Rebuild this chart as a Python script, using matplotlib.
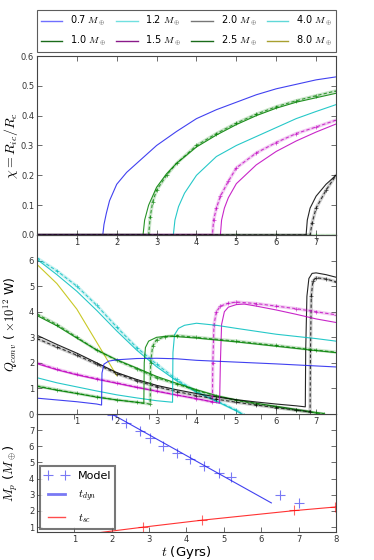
import matplotlib
matplotlib.use('Agg')
import matplotlib.pyplot as plt
from matplotlib.lines import Line2D

plt.rcParams['mathtext.fontset'] = 'cm'
plt.rcParams['font.family'] = ['DejaVu Sans']

# ---- panel 1 : inner core size chi vs time (solid = fit, "m" = model with + markers)
chi_07_t = [0, 1.65, 1.68, 1.74, 1.82, 2.0, 2.25, 2.5, 3.0, 3.5, 4.0, 4.5, 5.0, 5.5, 6.0, 6.5, 7.0, 7.5]
chi_07 = [0, 0, 0.035, 0.073, 0.115, 0.17, 0.21, 0.24, 0.30, 0.347, 0.39, 0.42, 0.445, 0.47, 0.49, 0.505, 0.52, 0.53]
chi_10_t = [0, 2.66, 2.7, 2.8, 3.0, 3.25, 3.5, 4.0, 4.5, 5.0, 5.5, 6.0, 6.5, 7.0, 7.5]
chi_10 = [0, 0, 0.05, 0.10, 0.16, 0.205, 0.24, 0.295, 0.335, 0.37, 0.40, 0.425, 0.445, 0.46, 0.475]
chi_10m_t = [0, 2.8, 2.84, 2.9, 3.0, 3.25, 3.5, 4.0, 4.5, 5.0, 5.5, 6.0, 6.5, 7.0, 7.5]
chi_10m = [0, 0, 0.06, 0.11, 0.15, 0.20, 0.24, 0.30, 0.34, 0.375, 0.405, 0.43, 0.45, 0.467, 0.483]
chi_12_t = [0, 3.42, 3.46, 3.55, 3.7, 4.0, 4.5, 5.0, 5.5, 6.0, 6.5, 7.0, 7.5]
chi_12 = [0, 0, 0.05, 0.095, 0.14, 0.20, 0.263, 0.30, 0.33, 0.36, 0.39, 0.414, 0.437]
chi_15_t = [0, 4.6, 4.63, 4.7, 4.8, 5.0, 5.5, 6.0, 6.5, 7.0, 7.5]
chi_15 = [0, 0, 0.05, 0.09, 0.125, 0.172, 0.235, 0.28, 0.315, 0.345, 0.372]
chi_15m_t = [0, 4.4, 4.43, 4.5, 4.6, 4.8, 5.0, 5.5, 6.0, 6.5, 7.0, 7.5]
chi_15m = [0, 0, 0.05, 0.09, 0.13, 0.18, 0.225, 0.275, 0.31, 0.34, 0.362, 0.385]
chi_20_t = [0, 6.75, 6.78, 6.85, 7.0, 7.25, 7.5]
chi_20 = [0, 0, 0.05, 0.09, 0.13, 0.17, 0.2]
chi_20m_t = [0, 6.85, 6.9, 7.0, 7.25, 7.5]
chi_20m = [0, 0, 0.04, 0.09, 0.15, 0.2]
chi_flat_t = [0, 1, 2, 3, 4, 5, 6, 7, 7.5]       # 2.5, 4.0 and 8.0 never nucleate
chi_flat = [0, 0, 0, 0, 0, 0, 0, 0, 0]

# ---- panel 2 : convective heat flow (x 1e12 W)
q_07_t = [0, 0.5, 1.0, 1.5, 1.62, 1.63, 1.68, 1.8, 2.0, 2.5, 3.0, 3.5, 4.0, 5.0, 6.0, 7.0, 7.5]
q_07 = [0.62, 0.55, 0.48, 0.39, 0.35, 1.6, 1.95, 2.07, 2.12, 2.17, 2.18, 2.16, 2.1, 2.03, 1.96, 1.88, 1.84]
q_10_t = [0, 0.5, 1.0, 1.5, 2.0, 2.5, 2.68, 2.69, 2.72, 2.8, 3.0, 3.3, 4.0, 5.0, 6.0, 7.0, 7.5]
q_10 = [1.08, 0.93, 0.8, 0.66, 0.55, 0.46, 0.42, 2.0, 2.6, 2.85, 3.0, 3.05, 2.97, 2.82, 2.65, 2.48, 2.4]
q_10m_t = [0, 0.5, 1.0, 1.5, 2.0, 2.5, 2.84, 2.85, 2.9, 3.0, 3.2, 3.5, 4.0, 5.0, 6.0, 7.0, 7.5]
q_10m = [1.1, 0.95, 0.81, 0.67, 0.55, 0.46, 0.39, 2.0, 2.65, 2.9, 3.02, 3.07, 3.0, 2.85, 2.68, 2.5, 2.42]
q_12_t = [0, 0.5, 1.0, 1.5, 2.0, 2.5, 3.0, 3.4, 3.41, 3.45, 3.55, 3.7, 4.0, 4.5, 5.0, 6.0, 7.0, 7.5]
q_12 = [1.42, 1.22, 1.06, 0.9, 0.75, 0.63, 0.52, 0.46, 2.4, 3.1, 3.35, 3.47, 3.55, 3.47, 3.35, 3.12, 2.95, 2.85]
q_15_t = [0, 0.5, 1.0, 1.5, 2.0, 2.5, 3.0, 3.5, 4.0, 4.58, 4.6, 4.63, 4.7, 4.8, 5.0, 5.2, 5.5, 6.0, 6.5, 7.0, 7.5]
q_15 = [1.97, 1.73, 1.53, 1.36, 1.2, 1.04, 0.89, 0.74, 0.6, 0.42, 2.0, 3.5, 4.0, 4.18, 4.28, 4.3, 4.22, 4.07, 3.9, 3.72, 3.58]
q_15m_t = [0, 0.5, 1.0, 1.5, 2.0, 2.5, 3.0, 3.5, 4.0, 4.4, 4.41, 4.44, 4.5, 4.6, 4.8, 5.0, 5.5, 6.0, 6.5, 7.0, 7.5]
q_15m = [2.0, 1.75, 1.55, 1.38, 1.22, 1.05, 0.9, 0.75, 0.6, 0.47, 2.0, 3.5, 4.0, 4.22, 4.33, 4.38, 4.32, 4.22, 4.12, 4.0, 3.88]
q_20_t = [0, 0.5, 1.0, 1.5, 2.0, 2.5, 3.0, 3.5, 4.0, 4.5, 5.0, 5.5, 6.0, 6.5, 6.73, 6.74, 6.77, 6.82, 6.9, 7.0, 7.25, 7.5]
q_20 = [3.08, 2.72, 2.38, 2.0, 1.62, 1.35, 1.12, 0.95, 0.8, 0.67, 0.56, 0.47, 0.39, 0.32, 0.28, 2.5, 4.6, 5.3, 5.5, 5.52, 5.45, 5.35]
q_20m_t = [0, 0.5, 1.0, 1.5, 2.0, 2.5, 3.0, 3.5, 4.0, 4.5, 5.0, 5.5, 6.0, 6.5, 6.85, 6.86, 6.88, 6.92, 7.0, 7.25, 7.5]
q_20m = [2.95, 2.62, 2.3, 1.95, 1.58, 1.3, 1.07, 0.88, 0.72, 0.58, 0.46, 0.35, 0.25, 0.15, 0.08, 2.5, 4.6, 5.2, 5.33, 5.28, 5.17]
q_25_t = [0, 0.5, 1.0, 1.5, 2.0, 2.5, 3.0, 3.5, 4.0, 4.5, 5.0, 5.5, 6.0, 6.5, 7.0, 7.2]
q_25 = [3.85, 3.45, 2.97, 2.5, 2.12, 1.8, 1.47, 1.2, 0.95, 0.72, 0.55, 0.42, 0.3, 0.18, 0.06, 0.02]
q_25m = [3.9, 3.5, 3.0, 2.5, 2.1, 1.77, 1.42, 1.17, 0.92, 0.7, 0.53, 0.4, 0.28, 0.16, 0.04, 0.0]
q_40_t = [0, 0.5, 1.0, 1.5, 2.0, 2.5, 3.0, 3.5, 4.0, 4.5, 5.0, 5.2]
q_40 = [6.05, 5.45, 4.8, 4.05, 3.25, 2.5, 1.85, 1.3, 0.85, 0.5, 0.12, -0.05]
q_40m = [6.1, 5.6, 5.0, 4.25, 3.4, 2.6, 1.95, 1.35, 0.88, 0.52, 0.15, -0.05]
q_80_t = [0, 0.5, 1.0, 1.25, 1.5, 1.75, 2.0]
q_80 = [5.85, 5.1, 4.1, 3.45, 2.8, 2.15, 1.5]

# ---- panel 3 : planet mass vs time of nucleation
model_t = [2.0, 2.39, 2.75, 3.02, 3.37, 3.75, 4.09, 4.48, 4.88, 5.18, 6.51, 7.02]
model_m = [7.95, 7.42, 6.94, 6.49, 6.03, 5.60, 5.20, 4.77, 4.34, 4.11, 3.01, 2.49]
model_sc_t = [2.84, 4.41, 6.87, 7.97]
model_sc_m = [1.02, 1.46, 2.04, 2.25]
tdyn_t = [2.0, 6.27]
tdyn_m = [8.0, 2.5]
tsc_t = [1.63, 2.84, 4.41, 6.87, 8.0]
tsc_m = [0.65, 1.0, 1.43, 2.02, 2.25]

masses = ['0.7', '1.0', '1.2', '1.5', '2.0', '2.5', '4.0', '8.0']
leg_colors = ['#6f6fff', '#1a6b1a', '#70e0e0', '#8a1a8a', '#777777', '#1a6b1a', '#60d8d8', '#a8a030']

B, G, C, M, K, Y = '#2020ee', '#008000', '#00bfbf', '#bf00bf', 'k', '#bfbf00'


def fit(ax, t, y, col):
	ax.plot(t, y, '-', color=col, lw=0.8, alpha=0.85)


def model(ax, t, y, col):
	# fuzzy band where the + markers of the model sit, then dashed line with markers
	ax.plot(t, y, '-', color=col, lw=2.4, alpha=0.2, solid_capstyle='round')
	ax.plot(t, y, '--', color=col, lw=0.8, dashes=(3, 2), marker='+', ms=3, mew=0.5, alpha=0.75)


fig = plt.figure(figsize=(3.74, 5.6), dpi=100)
L, W = 0.0989, 0.7995
ax1 = fig.add_axes([L, 0.5804, W, 0.3196])
ax2 = fig.add_axes([L, 0.2607, W, 0.3196])
ax3 = fig.add_axes([L, 0.05, W, 0.2107])
ax1.set_zorder(3)
ax2.set_zorder(2)
ax3.set_zorder(1)

# panel 1
model(ax1, chi_flat_t, chi_flat, G)
fit(ax1, chi_07_t, chi_07, B)
fit(ax1, chi_10_t, chi_10, G)
model(ax1, chi_10m_t, chi_10m, G)
fit(ax1, chi_12_t, chi_12, C)
fit(ax1, chi_15_t, chi_15, M)
model(ax1, chi_15m_t, chi_15m, M)
fit(ax1, chi_20_t, chi_20, K)
model(ax1, chi_20m_t, chi_20m, K)
ax1.set_xlim(0, 7.5)
ax1.set_ylim(0, 0.6)
ax1.set_yticks([0, 0.1, 0.2, 0.3, 0.4, 0.5, 0.6])
ax1.set_yticklabels(['0.0', '0.1', '0.2', '0.3', '0.4', '0.5', '0.6'])
ax1.set_xticks(range(1, 8))
ax1.set_ylabel(r'$\chi = R_{ic}/R_c$', fontsize=10)

# panel 2
fit(ax2, q_80_t, q_80, Y)
model(ax2, q_40_t, q_40m, C)
fit(ax2, q_40_t, q_40, C)
model(ax2, q_25_t, q_25m, G)
fit(ax2, q_25_t, q_25, G)
fit(ax2, q_20_t, q_20, K)
model(ax2, q_20m_t, q_20m, K)
fit(ax2, q_15_t, q_15, M)
model(ax2, q_15m_t, q_15m, M)
fit(ax2, q_12_t, q_12, C)
fit(ax2, q_10_t, q_10, G)
model(ax2, q_10m_t, q_10m, G)
fit(ax2, q_07_t, q_07, B)
ax2.set_xlim(0, 7.5)
ax2.set_ylim(0, 7)
ax2.set_yticks(range(0, 7))
ax2.set_xticks(range(1, 8))
ax2.set_ylabel(r'$Q_{conv}$ ( $\times 10^{12}$ W)', fontsize=9)

# panel 3
ax3.plot(tdyn_t, tdyn_m, '-', color=B, lw=0.8, alpha=0.85)
ax3.plot(tsc_t, tsc_m, '-', color='r', lw=0.8, alpha=0.8)
ax3.plot(model_t, model_m, '+', color=B, ms=7, mew=0.8, alpha=0.6)
ax3.plot(model_sc_t, model_sc_m, '+', color='r', ms=7, mew=0.8, alpha=0.6)
ax3.set_xlim(0, 8)
ax3.set_ylim(0.7, 8)
ax3.set_yticks(range(1, 8))
ax3.set_xticks(range(1, 9))
ax3.set_ylabel(r'$M_p$ ($M_\oplus$)', fontsize=9.5)
ax3.set_xlabel(r'$t$ (Gyrs)', fontsize=9.5, labelpad=0)

hnd = [Line2D([], [], ls='none', marker='+', color=B, ms=7, mew=0.8, alpha=0.6),
	Line2D([], [], color=B, lw=2, alpha=0.6),
	Line2D([], [], color='r', lw=1, alpha=0.7)]
lg = ax3.legend(hnd, ['Model', r'$t_{dyn}$', r'$t_{sc}$'], loc='lower left', numpoints=2,
	fontsize=8, borderaxespad=0.25, handlelength=2.2, labelspacing=0.7, fancybox=False)
lg.get_frame().set_edgecolor('#555555')
lg.get_frame().set_linewidth(1.5)

for ax in (ax1, ax2, ax3):
	ax.tick_params(direction='in', top=True, right=True, labelsize=6, length=3.5, width=0.5,
		colors='#333333', pad=2)
	for s in ax.spines.values():
		s.set_color('#444444')
		s.set_linewidth(0.8)
	ax.yaxis.set_label_coords(-0.058, 0.5)

# legend with the masses on top of panel 1
mh = [Line2D([], [], color=c, lw=1) for c in leg_colors]
ml = [m + r' $M_\oplus$' for m in masses]
top = ax1.legend(mh, ml, loc='lower left', bbox_to_anchor=(0, 1.022, 1, 0.2), mode='expand',
	ncol=4, fontsize=7, borderaxespad=0, fancybox=False, handlelength=2.2, labelspacing=0.6)
top.get_frame().set_edgecolor('#333333')
top.get_frame().set_linewidth(0.8)

fig.savefig('out.png', dpi=100)
